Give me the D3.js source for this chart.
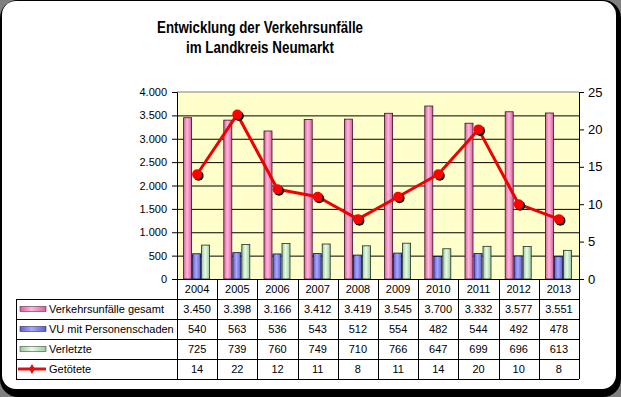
<!DOCTYPE html>
<html>
<head>
<meta charset="utf-8">
<script src="https://cdn.jsdelivr.net/npm/d3@7"></script>
<style>
  html, body { margin: 0; padding: 0; background: #808080; }
  svg { display: block; font-family: "Liberation Sans", Arial, sans-serif; }
</style>
</head>
<body>
<div id="chart"></div>
<script>
// data
const years = ['2004', '2005', '2006', '2007', '2008', '2009', '2010', '2011', '2012', '2013'];
const unfaelle = [3450, 3398, 3166, 3412, 3419, 3545, 3700, 3332, 3577, 3551];
const personenschaden = [540, 563, 536, 543, 512, 554, 482, 544, 492, 478];
const verletzte = [725, 739, 760, 749, 710, 766, 647, 699, 696, 613];
const getoetete = [14, 22, 12, 11, 8, 11, 14, 20, 10, 8];
const seriesNames = ['Verkehrsunfälle gesamt', 'VU mit Personenschaden', 'Verletzte', 'Getötete'];
const leftTicks = [0, 500, 1000, 1500, 2000, 2500, 3000, 3500, 4000];
const rightTicks = [0, 5, 10, 15, 20, 25];

const width = 621, height = 397;
const plot = {left: 177, right: 579, top: 92, bottom: 279};
const rowH = 20;
const tableLeft = 16;

const de = d3.formatLocale({decimal: ',', thousands: '.', grouping: [3], currency: ['', ' €']});
const fmt = de.format(',d');

const svg = d3.select('#chart').append('svg')
  .attr('width', width)
  .attr('height', height);

// frame
svg.append('rect').attr('width', width).attr('height', height).attr('fill', '#808080');
svg.append('rect').attr('x', 0).attr('y', 0).attr('width', width).attr('height', height)
  .attr('rx', 18).attr('fill', '#000');
svg.append('rect').attr('x', 2).attr('y', 1).attr('width', 614).attr('height', 388)
  .attr('rx', 14).attr('fill', '#fff');

// gradients for the bars
const defs = svg.append('defs');
const barStyles = [
  {id: 'gPink', edge: '#d8609c', mid: '#ffb8dc', stroke: '#3a1028'},
  {id: 'gBlue', edge: '#5c5cd0', mid: '#a8a8ff', stroke: '#101040'},
  {id: 'gGreen', edge: '#9cc89c', mid: '#e8fce8', stroke: '#203020'}
];
barStyles.forEach(s => {
  const g = defs.append('linearGradient').attr('id', s.id)
    .attr('x1', '0%').attr('x2', '100%').attr('y1', '0%').attr('y2', '0%');
  g.append('stop').attr('offset', '0%').attr('stop-color', s.edge);
  g.append('stop').attr('offset', '45%').attr('stop-color', s.mid);
  g.append('stop').attr('offset', '100%').attr('stop-color', s.edge);
});

// title
const title = svg.append('g').attr('font-weight', 'bold').attr('font-size', 17).attr('text-anchor', 'middle');
title.append('text').attr('x', 260).attr('y', 33)
  .attr('textLength', 206).attr('lengthAdjust', 'spacingAndGlyphs')
  .text('Entwicklung der Verkehrsunfälle');
title.append('text').attr('x', 260).attr('y', 53)
  .attr('textLength', 148).attr('lengthAdjust', 'spacingAndGlyphs')
  .text('im Landkreis Neumarkt');

// scales
const x = d3.scaleBand().domain(years).range([plot.left, plot.right]);
const y = d3.scaleLinear().domain([0, 4000]).range([plot.bottom, plot.top]);
const y2 = d3.scaleLinear().domain([0, 25]).range([plot.bottom, plot.top]);

// plot area
svg.append('rect')
  .attr('x', plot.left).attr('y', plot.top)
  .attr('width', plot.right - plot.left).attr('height', plot.bottom - plot.top)
  .attr('fill', '#ffffcc');

// grid
svg.append('g')
  .attr('transform', `translate(${plot.left},0)`)
  .call(d3.axisLeft(y).tickValues(leftTicks.slice(1, -1)).tickSize(-(plot.right - plot.left)).tickFormat(''))
  .call(g => g.select('.domain').remove())
  .call(g => g.selectAll('line').attr('stroke', '#000'));
svg.append('line')
  .attr('x1', plot.left).attr('x2', plot.right)
  .attr('y1', y(4000)).attr('y2', y(4000))
  .attr('stroke', '#808080');

// bars
const barW = 8;
const series = [
  {values: unfaelle, off: -13.5, fill: 'url(#gPink)', stroke: barStyles[0].stroke},
  {values: personenschaden, off: -4.5, fill: 'url(#gBlue)', stroke: barStyles[1].stroke},
  {values: verletzte, off: 4.5, fill: 'url(#gGreen)', stroke: barStyles[2].stroke}
];
const cx = d => x(d) + x.bandwidth() / 2;
series.forEach(s => {
  svg.append('g').selectAll('rect')
    .data(years)
    .join('rect')
      .attr('x', (d) => cx(d) + s.off)
      .attr('y', (d, i) => y(s.values[i]))
      .attr('width', barW)
      .attr('height', (d, i) => plot.bottom - y(s.values[i]))
      .attr('fill', s.fill)
      .attr('stroke', s.stroke)
      .attr('stroke-width', 0.8);
});

// left axis
svg.append('g')
  .attr('transform', `translate(${plot.left},0)`)
  .call(d3.axisLeft(y).tickValues(leftTicks).tickSize(5).tickPadding(5).tickFormat(fmt))
  .call(g => g.selectAll('text').attr('font-size', 11).attr('fill', '#000').attr('font-family', null))
  .call(g => g.selectAll('line, path').attr('stroke', '#000'));

// right axis
svg.append('g')
  .attr('transform', `translate(${plot.right},0)`)
  .call(d3.axisRight(y2).tickValues(rightTicks).tickSize(5).tickPadding(4))
  .call(g => g.selectAll('text').attr('font-size', 13).attr('fill', '#000').attr('font-family', null))
  .call(g => g.selectAll('line, path').attr('stroke', '#000'));

// line for Getötete
const line = d3.line()
  .x((d, i) => cx(years[i]))
  .y(d => y2(d));
svg.append('path')
  .datum(getoetete)
  .attr('d', line)
  .attr('fill', 'none')
  .attr('stroke', '#f00000')
  .attr('stroke-width', 3)
  .attr('stroke-linejoin', 'round');
const markers = svg.append('g');
markers.selectAll('circle.shadow')
  .data(getoetete)
  .join('circle')
    .attr('class', 'shadow')
    .attr('cx', (d, i) => cx(years[i]) + 1.5)
    .attr('cy', d => y2(d) + 1.5)
    .attr('r', 5)
    .attr('fill', '#000');
markers.selectAll('circle.dot')
  .data(getoetete)
  .join('circle')
    .attr('class', 'dot')
    .attr('cx', (d, i) => cx(years[i]))
    .attr('cy', d => y2(d))
    .attr('r', 5)
    .attr('fill', '#ff0000');

// data table
const table = svg.append('g').attr('font-size', 11).attr('fill', '#000');
const rows = [unfaelle, personenschaden, verletzte, getoetete];
const tableTop = plot.bottom;
const tableBottom = tableTop + rowH * 5;

// header row: years
table.selectAll('text.year')
  .data(years)
  .join('text')
    .attr('class', 'year')
    .attr('x', d => cx(d))
    .attr('y', tableTop + rowH / 2 + 4)
    .attr('text-anchor', 'middle')
    .text(d => d);

// body rows
rows.forEach((vals, r) => {
  const rowY = tableTop + rowH * (r + 1);
  table.selectAll(null)
    .data(years)
    .join('text')
      .attr('x', d => cx(d))
      .attr('y', rowY + rowH / 2 + 4)
      .attr('text-anchor', 'middle')
      .text((d, i) => fmt(vals[i]));
  table.append('text')
    .attr('x', 49)
    .attr('y', rowY + rowH / 2 + 4)
    .text(seriesNames[r]);
  const my = rowY + rowH / 2;
  if (r < 3) {
    table.append('rect')
      .attr('x', 20).attr('y', my - 2.5).attr('width', 26).attr('height', 5)
      .attr('fill', `url(#${barStyles[r].id})`)
      .attr('stroke', barStyles[r].stroke).attr('stroke-width', 0.5);
  } else {
    table.append('line')
      .attr('x1', 18).attr('x2', 46).attr('y1', my).attr('y2', my)
      .attr('stroke', '#e01010').attr('stroke-width', 3);
    table.append('path')
      .attr('d', d3.symbol(d3.symbolDiamond, 30)())
      .attr('transform', `translate(32,${my})`)
      .attr('fill', '#e01010');
  }
});

// grid lines of table
const tl = svg.append('g').attr('stroke', '#000').attr('stroke-width', 1).attr('shape-rendering', 'crispEdges');
d3.range(1, 6).forEach(r => {
  tl.append('line')
    .attr('x1', tableLeft).attr('x2', plot.right)
    .attr('y1', tableTop + rowH * r).attr('y2', tableTop + rowH * r);
});
tl.append('line')
  .attr('x1', plot.left).attr('x2', plot.right)
  .attr('y1', tableTop).attr('y2', tableTop);
tl.append('line')
  .attr('x1', tableLeft).attr('x2', tableLeft)
  .attr('y1', tableTop + rowH).attr('y2', tableBottom);
tl.selectAll(null)
  .data(x.domain().map(d => x(d)).concat([plot.right]))
  .join('line')
    .attr('x1', d => Math.round(d)).attr('x2', d => Math.round(d))
    .attr('y1', tableTop).attr('y2', tableBottom);
</script>
</body>
</html>
